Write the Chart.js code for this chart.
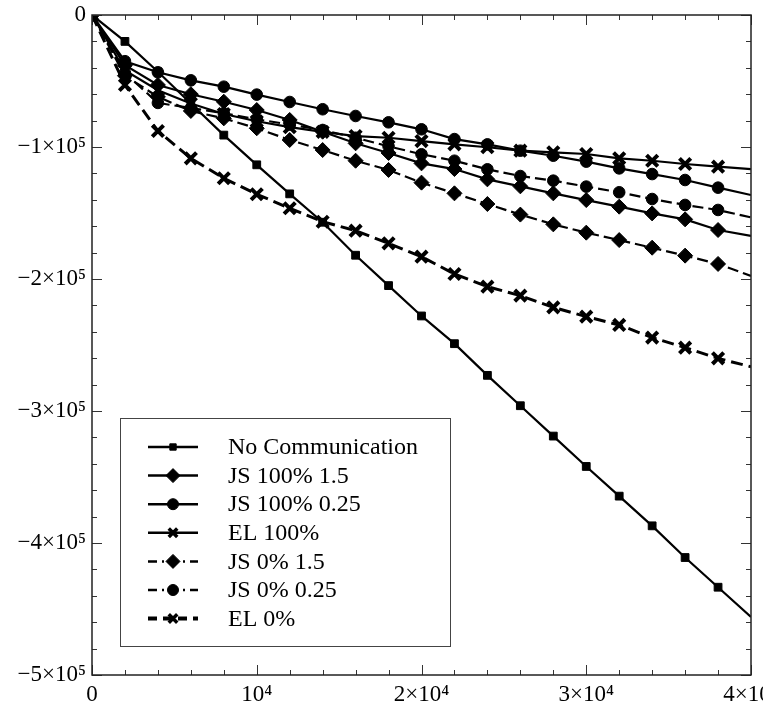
<!DOCTYPE html>
<html>
<head>
<meta charset="utf-8">
<script src="https://cdn.jsdelivr.net/npm/chart.js@4.4.1/dist/chart.umd.min.js"></script>
<style>
  html, body { margin: 0; padding: 0; background: #fff; overflow: hidden; }
  canvas { display: block; }
</style>
</head>
<body>
<canvas id="c" width="763" height="709"></canvas>
<script>
// ---------------- data ----------------
const xValues = [0, 2000, 4000, 6000, 8000, 10000, 12000, 14000, 16000, 18000, 20000,
                 22000, 24000, 26000, 28000, 30000, 32000, 34000, 36000, 38000, 40000];

const seriesNames = ["No Communication", "JS 100% 1.5", "JS 100% 0.25", "EL 100%",
                     "JS 0% 1.5", "JS 0% 0.25", "EL 0%"];

const noComm  = [0, -20000, -43000, -67000, -91000, -113500, -135500, -157000, -182000, -205000, -228000,
                 -249000, -273000, -296000, -319000, -342000, -364500, -387000, -411000, -433500, -456000];
const js100_15  = [0, -38000, -53000, -60000, -65700, -72000, -79500, -88400, -97200, -104500, -112400,
                   -116700, -124500, -129800, -135100, -140200, -145200, -150300, -154800, -162900, -167400];
const js100_025 = [0, -35000, -43400, -49500, -54300, -60300, -65900, -71400, -76500, -81300, -86600,
                   -94000, -98000, -102800, -106600, -111100, -116200, -120500, -125000, -130800, -136400];
const el100   = [0, -42000, -57000, -67000, -75000, -80500, -85000, -88500, -91700, -93000, -95500,
                 -98000, -100200, -102800, -104000, -105300, -108600, -110400, -112900, -114900, -116700];
const js0_15  = [0, -46000, -62000, -72700, -78300, -85800, -94700, -102300, -110400, -117400, -127000,
                 -135100, -143200, -151200, -158600, -164900, -170500, -176300, -182300, -188600, -197700];
const js0_025 = [0, -44000, -66600, -70500, -74500, -79000, -83000, -87100, -93000, -99500, -105500,
                 -110400, -116900, -122000, -125500, -130000, -134300, -139400, -143900, -147700, -153300];
const el0     = [0, -53000, -87900, -108600, -123700, -135800, -146400, -156600, -163400, -173000, -183100,
                 -196200, -205800, -212600, -221500, -228500, -234800, -244400, -252000, -260100, -266500];

const xTickValues = [0, 10000, 20000, 30000, 40000];
const xTickLabels = ["0", "10\u2074", "2\u00d710\u2074", "3\u00d710\u2074", "4\u00d710\u2074"];
const yTickValues = [0, -100000, -200000, -300000, -400000, -500000];
const yTickLabels = ["0", "\u22121\u00d710\u2075", "\u22122\u00d710\u2075", "\u22123\u00d710\u2075",
                     "\u22124\u00d710\u2075", "\u22125\u00d710\u2075"];

// ---------------- styles ----------------
const seriesValues = [noComm, js100_15, js100_025, el100, js0_15, js0_025, el0];
const styles = [
  { ps: 'rect',     r: 5.5, pbw: 1,   bw: 2.2, dash: [],       lr: 4.5, lpbw: 1 },
  { ps: 'rectRot',  r: 7.5, pbw: 1,   bw: 2.2, dash: [],       lr: 7,   lpbw: 1 },
  { ps: 'circle',   r: 5.8, pbw: 1,   bw: 2.2, dash: [],       lr: 5.5, lpbw: 1 },
  { ps: 'crossRot', r: 8,   pbw: 4,   bw: 2.2, dash: [],       lr: 6,   lpbw: 3.5 },
  { ps: 'rectRot',  r: 7.5, pbw: 1,   bw: 2.2, dash: [11, 5],  lr: 7,   lpbw: 1 },
  { ps: 'circle',   r: 5.8, pbw: 1,   bw: 2.2, dash: [11, 5],  lr: 5.5, lpbw: 1 },
  { ps: 'crossRot', r: 8,   pbw: 4,   bw: 3,   dash: [12, 6],  lr: 6,   lpbw: 3.5 }
];

const FONT = '"Liberation Serif", "Times New Roman", serif';

const datasets = seriesNames.map((name, i) => {
  const st = styles[i];
  return {
    label: name,
    data: xValues.map((x, j) => ({ x: x, y: seriesValues[i][j] })),
    borderColor: '#000',
    backgroundColor: '#000',
    borderWidth: st.bw,
    borderDash: st.dash,
    tension: 0,
    fill: false,
    pointStyle: st.ps,
    pointRadius: xValues.map((x, j) => j === xValues.length - 1 ? 0 : st.r),
    pointHoverRadius: st.r,
    pointBorderWidth: st.pbw,
    pointBackgroundColor: '#000',
    pointBorderColor: '#000',
    clip: 0
  };
});

// ---------------- plugins ----------------
function drawMarker(ctx, style, x, y, r, bw) {
  ctx.save();
  ctx.fillStyle = '#000';
  ctx.strokeStyle = '#000';
  ctx.lineWidth = bw;
  ctx.setLineDash([]);
  ctx.beginPath();
  if (style === 'rect') {
    const s = r * Math.SQRT1_2;
    ctx.rect(x - s, y - s, 2 * s, 2 * s);
    ctx.fill(); ctx.stroke();
  } else if (style === 'rectRot') {
    ctx.moveTo(x - r, y); ctx.lineTo(x, y - r); ctx.lineTo(x + r, y); ctx.lineTo(x, y + r);
    ctx.closePath(); ctx.fill(); ctx.stroke();
  } else if (style === 'circle') {
    ctx.arc(x, y, r, 0, Math.PI * 2);
    ctx.fill(); ctx.stroke();
  } else if (style === 'crossRot') {
    const o = r * Math.SQRT1_2;
    ctx.moveTo(x - o, y - o); ctx.lineTo(x + o, y + o);
    ctx.moveTo(x - o, y + o); ctx.lineTo(x + o, y - o);
    ctx.stroke();
  }
  ctx.restore();
}

const framePlugin = {
  id: 'frameTicks',
  afterDraw(chart) {
    const ctx = chart.ctx;
    const a = chart.chartArea;
    const xs = chart.scales.x, ys = chart.scales.y;
    ctx.save();
    ctx.strokeStyle = '#333';
    ctx.lineWidth = 1;
    ctx.setLineDash([]);
    ctx.beginPath();
    for (let v = 0; v <= 40000; v += 2000) {
      const px = Math.round(xs.getPixelForValue(v)) + 0.5;
      const len = (v % 10000 === 0) ? 10 : 5;
      ctx.moveTo(px, a.bottom); ctx.lineTo(px, a.bottom - len);
      ctx.moveTo(px, a.top); ctx.lineTo(px, a.top + len);
    }
    for (let v = 0; v >= -500000; v -= 20000) {
      const py = Math.round(ys.getPixelForValue(v)) + 0.5;
      const len = (v % 100000 === 0) ? 10 : 5;
      ctx.moveTo(a.left, py); ctx.lineTo(a.left + len, py);
      ctx.moveTo(a.right, py); ctx.lineTo(a.right - len, py);
    }
    ctx.stroke();
    ctx.strokeStyle = '#222';
    ctx.lineWidth = 1.5;
    ctx.strokeRect(a.left, a.top, a.right - a.left, a.bottom - a.top);
    ctx.restore();

    // legend
    const bx = 120.5, by = 418.5, bw = 330, bh = 228;
    ctx.save();
    ctx.fillStyle = '#fff';
    ctx.fillRect(bx, by, bw, bh);
    ctx.strokeStyle = '#444';
    ctx.lineWidth = 1;
    ctx.strokeRect(bx, by, bw, bh);
    chart.data.datasets.forEach((ds, i) => {
      const st = styles[i];
      const y = 447 + i * 28.6;
      ctx.save();
      ctx.strokeStyle = '#000';
      ctx.lineWidth = ds.borderWidth + (i === 6 ? 1 : 0.3);
      ctx.setLineDash(i >= 4 ? (i === 6 ? [9, 6] : [9, 5, 2, 5]) : []);
      ctx.beginPath();
      ctx.moveTo(148, y); ctx.lineTo(198, y);
      ctx.stroke();
      ctx.restore();
      drawMarker(ctx, st.ps, 173, y, st.lr, st.lpbw);
      ctx.fillStyle = '#000';
      ctx.font = '24px ' + FONT;
      ctx.textBaseline = 'middle';
      ctx.textAlign = 'left';
      ctx.fillText(ds.label, 228, y + 1);
    });
    ctx.restore();
  }
};

// ---------------- chart ----------------
new Chart(document.getElementById('c'), {
  type: 'line',
  data: { datasets: datasets },
  plugins: [framePlugin],
  options: {
    responsive: false,
    animation: false,
    devicePixelRatio: 1,
    layout: { padding: { top: 15, right: 12, left: 0, bottom: 0 } },
    plugins: { legend: { display: false }, tooltip: { enabled: false } },
    scales: {
      x: {
        type: 'linear',
        min: 0, max: 40000,
        grid: { display: false, drawTicks: false },
        border: { display: false },
        ticks: {
          stepSize: 10000,
          autoSkip: false,
          maxRotation: 0,
          padding: 6,
          color: '#000',
          font: { family: FONT, size: 23 },
          callback: (v) => { const k = xTickValues.indexOf(v); return k >= 0 ? xTickLabels[k] : ''; }
        },
        afterFit(scale) { scale.height = 34; scale.paddingLeft = 0; scale.paddingRight = 0; }
      },
      y: {
        type: 'linear',
        min: -500000, max: 0,
        grid: { display: false, drawTicks: false },
        border: { display: false },
        ticks: {
          stepSize: 100000,
          autoSkip: false,
          padding: 6,
          color: '#000',
          font: { family: FONT, size: 23 },
          callback: (v) => { const k = yTickValues.indexOf(v); return k >= 0 ? yTickLabels[k] : ''; }
        },
        afterFit(scale) { scale.width = 92; scale.paddingTop = 0; scale.paddingBottom = 0; }
      }
    }
  }
});
</script>
</body>
</html>
